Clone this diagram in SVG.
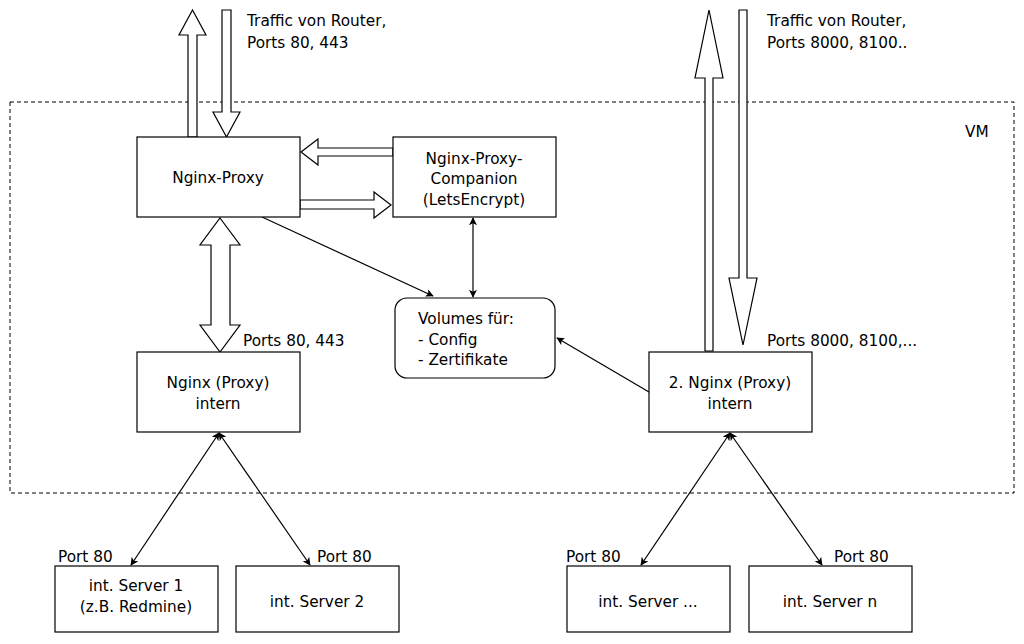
<svg xmlns="http://www.w3.org/2000/svg" width="1024" height="644" viewBox="0 0 1024 644">
<style>
.b{fill:#fff;stroke:#000;stroke-width:1.2}
.f{fill:#fff;stroke:#000;stroke-width:1.2;stroke-linejoin:miter}
.l{fill:none;stroke:#000;stroke-width:1.2}
text{font-family:"DejaVu Sans",Verdana,sans-serif;font-size:15.3px;fill:#000}
.c{text-anchor:middle}
</style>
<defs>
<marker id="a" viewBox="0 0 10 10" refX="9" refY="5" markerWidth="8" markerHeight="8" orient="auto-start-reverse" markerUnits="userSpaceOnUse"><path d="M0,0 L10,5 L0,10 L2.5,5 Z" fill="#000"/></marker>
</defs>
<rect x="10" y="102" width="1004" height="391" fill="none" stroke="#000" stroke-dasharray="4 3"/>
<text x="965" y="137">VM</text>
<g id="connectors">
<path class="f" d="M188,137 V35 H179 L192.5,10 L206,35 H197 V137 Z"/>
<path class="f" d="M222,10 H231 V112 H240 L226.5,137 L213,112 H222 Z"/>
<path class="f" d="M705,351 V78 H695 L709,10 L723,78 H713 V351 Z"/>
<path class="f" d="M739,10 H747 V278 H757 L743,345 L729,278 H739 Z"/>
<path class="f" d="M393,148 H318 V139 L301,152 L318,165 V156 H393 Z"/>
<path class="f" d="M300,200 H374 V192 L391,205 L374,218 V209 H300 Z"/>
<path class="f" d="M220,218 L240,245 H230 V325 H240 L220,352 L200,325 H211 V245 H200 Z"/>
<line class="l" x1="262" y1="217" x2="433" y2="296" marker-end="url(#a)"/>
<line class="l" x1="473" y1="218" x2="473" y2="297" marker-start="url(#a)" marker-end="url(#a)"/>
<line class="l" x1="649" y1="392" x2="557" y2="338" marker-end="url(#a)"/>
<line class="l" x1="219" y1="433" x2="131" y2="565" marker-start="url(#a)" marker-end="url(#a)"/>
<line class="l" x1="219" y1="433" x2="310" y2="565" marker-start="url(#a)" marker-end="url(#a)"/>
<line class="l" x1="730" y1="433" x2="641" y2="565" marker-start="url(#a)" marker-end="url(#a)"/>
<line class="l" x1="730" y1="433" x2="822" y2="565" marker-start="url(#a)" marker-end="url(#a)"/>
</g>
<text x="247" y="26">Traffic von Router,</text>
<text x="247" y="48">Ports 80, 443</text>
<text x="767" y="26">Traffic von Router,</text>
<text x="767" y="48">Ports 8000, 8100..</text>
<text x="243" y="346">Ports 80, 443</text>
<text x="767" y="346">Ports 8000, 8100,...</text>
<text x="58" y="562">Port 80</text>
<text x="317" y="562">Port 80</text>
<text x="566" y="562">Port 80</text>
<text x="834" y="562">Port 80</text>
<g id="nginx-proxy"><rect class="b" x="137" y="137" width="163" height="80"/><text class="c" x="218" y="183">Nginx-Proxy</text></g>
<g id="companion"><rect class="b" x="393" y="137" width="163" height="80"/><text class="c" x="474" y="164">Nginx-Proxy-</text><text class="c" x="474" y="184">Companion</text><text class="c" x="474" y="205">(LetsEncrypt)</text></g>
<g id="volumes"><rect class="b" x="395" y="298" width="160" height="80" rx="12"/><text x="418" y="324">Volumes für:</text><text x="418" y="345">- Config</text><text x="418" y="365">- Zertifikate</text></g>
<g id="nginx-intern"><rect class="b" x="137" y="352" width="163" height="80"/><text class="c" x="218" y="388">Nginx (Proxy)</text><text class="c" x="218" y="409">intern</text></g>
<g id="nginx2"><rect class="b" x="649" y="352" width="163" height="80"/><text class="c" x="730" y="388">2. Nginx (Proxy)</text><text class="c" x="730" y="409">intern</text></g>
<g id="s1"><rect class="b" x="55" y="566" width="163" height="66"/><text class="c" x="136" y="591">int. Server 1</text><text class="c" x="136" y="612">(z.B. Redmine)</text></g>
<g id="s2"><rect class="b" x="236" y="566" width="163" height="66"/><text class="c" x="317" y="607">int. Server 2</text></g>
<g id="s3"><rect class="b" x="567" y="566" width="163" height="66"/><text class="c" x="648" y="607">int. Server ...</text></g>
<g id="sn"><rect class="b" x="749" y="566" width="163" height="66"/><text class="c" x="830" y="607">int. Server n</text></g>
</svg>
